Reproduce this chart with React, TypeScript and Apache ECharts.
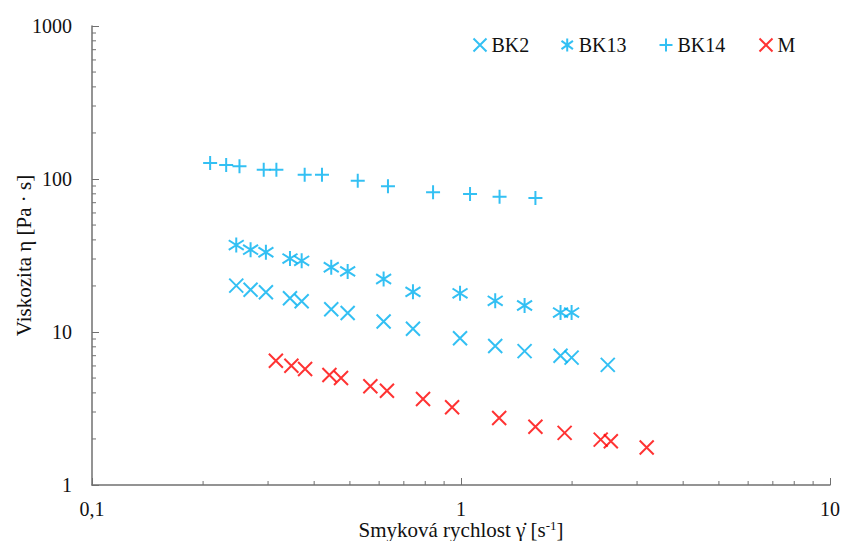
import React, { useEffect, useRef } from "react";
import * as echarts from "echarts";

// Shear rate values (s^-1) shared by BK2 / BK13
const shearBK = [0.246, 0.269, 0.296, 0.344, 0.37, 0.445, 0.493, 0.617, 0.741, 0.994, 1.238, 1.487, 1.861, 1.994, 2.499];
const viscBK2 = [20.1, 18.9, 18.2, 16.6, 15.9, 14.1, 13.3, 11.7, 10.5, 9.1, 8.1, 7.5, 7.0, 6.8, 6.1];
const viscBK13 = [37.0, 34.5, 33.2, 30.2, 29.2, 26.5, 24.9, 22.2, 18.3, 17.9, 16.0, 14.9, 13.4, 13.4];
const shearBK14 = [0.209, 0.231, 0.251, 0.292, 0.316, 0.377, 0.42, 0.525, 0.634, 0.84, 1.058, 1.272, 1.591];
const viscBK14 = [127.2, 123.4, 121.1, 115.0, 115.0, 106.7, 106.7, 97.5, 89.6, 81.9, 79.8, 76.6, 75.1];
const shearM = [0.315, 0.347, 0.378, 0.44, 0.473, 0.568, 0.63, 0.789, 0.946, 1.269, 1.591, 1.909, 2.391, 2.547, 3.186];
const viscM = [6.49, 6.02, 5.73, 5.24, 5.0, 4.42, 4.13, 3.65, 3.22, 2.74, 2.4, 2.19, 1.98, 1.93, 1.76];

const seriesNames = ["BK2", "BK13", "BK14", "M"];
const xMinorTicks = [0.2, 0.3, 0.4, 0.5, 0.6, 0.7, 0.8, 0.9, 2, 3, 4, 5, 6, 7, 8, 9];
const yMinorTicks = [2, 3, 4, 5, 6, 7, 8, 9, 20, 30, 40, 50, 60, 70, 80, 90, 200, 300, 400, 500, 600, 700, 800, 900];

const BLUE = "#00B0F0";
const RED = "#FF0000";
const AXIS = "#707070";
const FONT = "Liberation Serif";
const TXT = "#111111";

const SYM_X = "path://M0,0L10,10M10,0L0,10";
const SYM_AST = "path://M5,0L5,10M0.6,1.8L9.4,8.2M9.4,1.8L0.6,8.2";
const SYM_PLUS = "path://M5,0L5,10M0,5L10,5";

const pairs = (xs: number[], ys: number[]) => ys.map((y, i) => [xs[i], y]);

export default function App() {
  const ref = useRef<HTMLDivElement>(null);
  useEffect(() => {
    if (!ref.current) return;
    const chart = echarts.init(ref.current, null, { renderer: "svg" });
    const mk = (name: string, data: number[][], symbol: string, color: string, size: number) => ({
      name,
      type: "scatter",
      data,
      symbol,
      symbolSize: size,
      itemStyle: { color: "none", borderColor: color, borderWidth: 2 },
      emphasis: { disabled: true },
    });
    const legendLeft = [471, 559, 657, 757];
    chart.setOption({
      animation: false,
      backgroundColor: "#fff",
      textStyle: { fontFamily: FONT },
      grid: { left: 92, right: 12, top: 26, bottom: 56, containLabel: false, outerBoundsMode: "none" },
      legend: seriesNames.map((n, i) => ({
        data: [n],
        left: legendLeft[i],
        top: 35,
        padding: 0,
        itemWidth: 13,
        itemHeight: 13,
        itemGap: 4,
        selectedMode: false,
        textStyle: { fontFamily: FONT, fontSize: 20, color: TXT },
      })),
      xAxis: {
        type: "log",
        logBase: 10,
        min: 0.1,
        max: 10,
        name: "Smyková rychlost γ̇ [s{sup|-1}]",
        nameLocation: "middle",
        nameGap: 34,
        nameMoveOverlap: false,
        nameTextStyle: {
          fontFamily: FONT,
          fontSize: 21,
          color: TXT,
          rich: { sup: { fontFamily: FONT, fontSize: 13, color: TXT, verticalAlign: "top", padding: [0, 0, 9, 0] } },
        },
        axisLine: { show: true, lineStyle: { color: AXIS, width: 1.5 } },
        axisTick: { show: true, inside: true, length: 7, lineStyle: { color: AXIS } },
        splitLine: { show: false },
        axisLabel: {
          fontFamily: FONT,
          fontSize: 20,
          color: TXT,
          margin: 14,
          formatter: (v: number) => String(v).replace(".", ","),
        },
      },
      yAxis: {
        type: "log",
        logBase: 10,
        min: 1,
        max: 1000,
        name: "Viskozita η [Pa · s]",
        nameLocation: "middle",
        nameGap: 58,
        nameMoveOverlap: false,
        nameTextStyle: { fontFamily: FONT, fontSize: 21, color: TXT },
        axisLine: { show: true, lineStyle: { color: AXIS, width: 1.5 } },
        axisTick: { show: true, inside: true, length: 7, lineStyle: { color: AXIS } },
        splitLine: { show: false },
        axisLabel: { fontFamily: FONT, fontSize: 20, color: TXT, margin: 20, formatter: (v: number) => String(v) },
      },
      series: [
        mk("BK2", pairs(shearBK, viscBK2), SYM_X, BLUE, 14),
        mk("BK13", pairs(shearBK, viscBK13), SYM_AST, BLUE, 15),
        mk("BK14", pairs(shearBK14, viscBK14), SYM_PLUS, BLUE, 14),
        mk("M", pairs(shearM, viscM), SYM_X, RED, 14),
        {
          type: "custom",
          silent: true,
          clip: false,
          data: xMinorTicks.map((v) => [v, 1]),
          encode: { x: 0, y: 1 },
          renderItem: (params: any, api: any) => {
            const p = api.coord([api.value(0), api.value(1)]);
            return {
              type: "line",
              shape: { x1: p[0], y1: p[1], x2: p[0], y2: p[1] - 4 },
              style: { stroke: AXIS, lineWidth: 1 },
            };
          },
        },
        {
          type: "custom",
          silent: true,
          clip: false,
          data: yMinorTicks.map((v) => [0.1, v]),
          encode: { x: 0, y: 1 },
          renderItem: (params: any, api: any) => {
            const p = api.coord([api.value(0), api.value(1)]);
            return {
              type: "line",
              shape: { x1: p[0], y1: p[1], x2: p[0] + 4, y2: p[1] },
              style: { stroke: AXIS, lineWidth: 1 },
            };
          },
        },
      ],
    });
    return () => chart.dispose();
  }, []);
  return <div ref={ref} style={{ position: "fixed", left: 0, top: 0, width: 842, height: 541 }} />;
}
